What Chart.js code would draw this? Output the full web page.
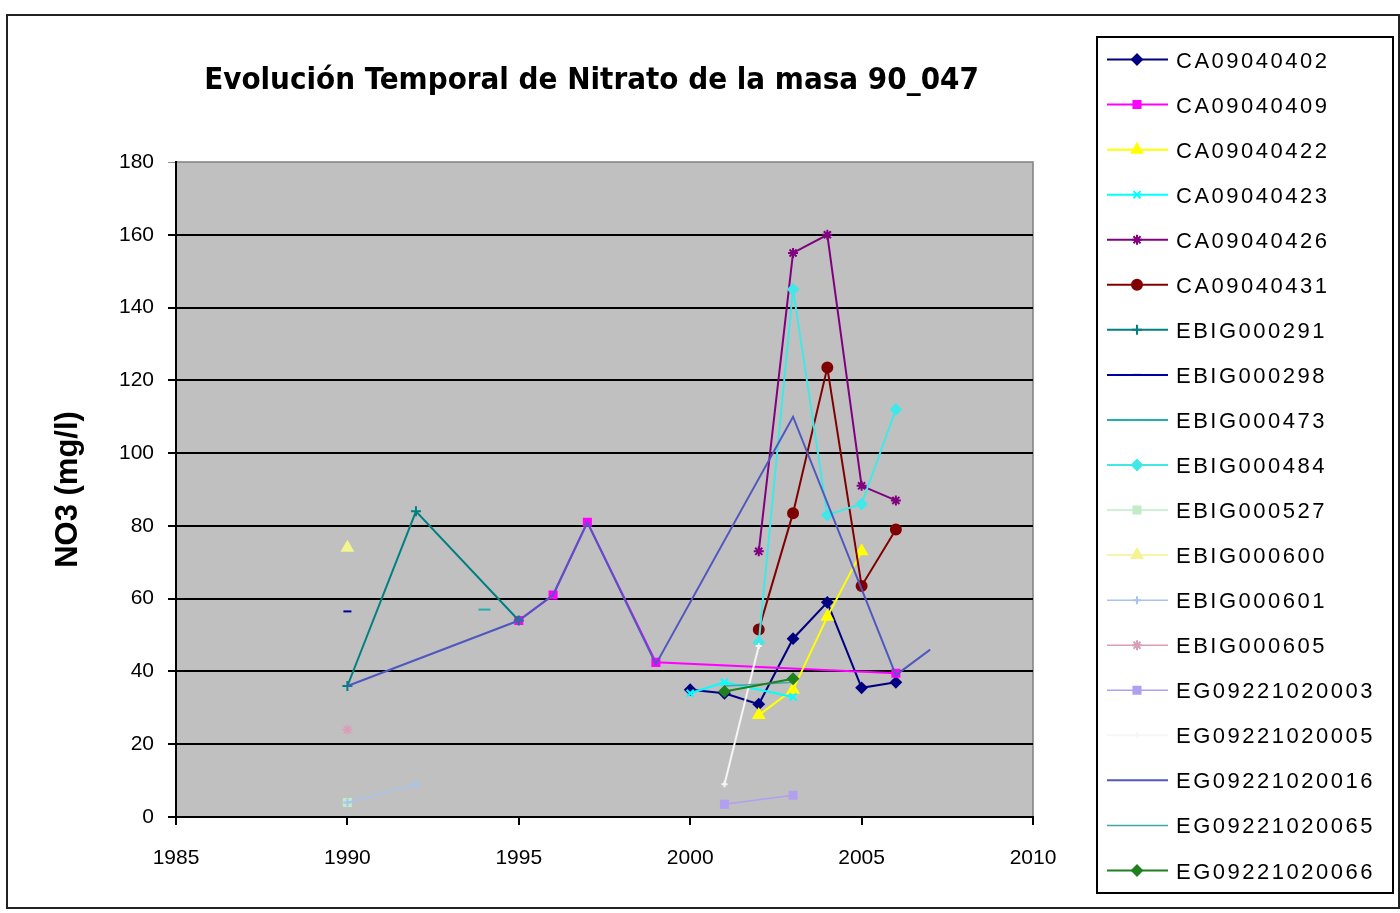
<!DOCTYPE html>
<html>
<head>
<meta charset="utf-8">
<title>Evolución Temporal de Nitrato de la masa 90_047</title>
<script src="https://cdn.jsdelivr.net/npm/chart.js@4.4.1/dist/chart.umd.min.js"></script>
<style>
  html, body { margin: 0; background: #fff; }
  #frame { position: absolute; left: 6px; top: 14px; width: 1390px; height: 891px; border: 2px solid #222; }
  #wrap { position: absolute; left: 0; top: 0; width: 1400px; height: 913px; }
</style>
</head>
<body>
<div id="frame"></div>
<div id="wrap"><canvas id="nitrateChart" width="1400" height="913"></canvas></div>
<script>
const CHART_TITLE = "Evolución Temporal de Nitrato de la masa 90_047";
const Y_TITLE = "NO3 (mg/l)";

const xTicks = [1985, 1990, 1995, 2000, 2005, 2010];
const yTicks = [0, 20, 40, 60, 80, 100, 120, 140, 160, 180];

const stationCodes = [
  "CA09040402", "CA09040409", "CA09040422", "CA09040423", "CA09040426",
  "CA09040431", "EBIG000291", "EBIG000298", "EBIG000473", "EBIG000484",
  "EBIG000527", "EBIG000600", "EBIG000601", "EBIG000605", "EG09221020003",
  "EG09221020005", "EG09221020016", "EG09221020065", "EG09221020066",
];

// years and nitrate values (mg/l) per station
const ca402Years = [2000, 2001, 2002, 2003, 2004, 2005, 2006];
const ca402No3 = [35, 34, 31, 49, 59, 35.5, 37];
const ca409Years = [1995, 1996, 1997, 1999, 2006];
const ca409No3 = [54, 61, 81, 42.5, 39.5];
const ca422Years = [2002, 2003, 2004, 2005];
const ca422No3 = [28, 35, 55, 73];
const ca423Years = [2000, 2001, 2003];
const ca423No3 = [34, 37, 33];
const ca426Years = [2002, 2003, 2004, 2005, 2006];
const ca426No3 = [73, 155, 160, 91, 87];
const ca431Years = [2002, 2003, 2004, 2005, 2006];
const ca431No3 = [51.5, 83.5, 123.5, 63.5, 79];
const eb291Years = [1990, 1992, 1995];
const eb291No3 = [36, 84, 54];
const eb298Years = [1990];
const eb298No3 = [56.5];
const eb473Years = [1994];
const eb473No3 = [57];
const eb484Years = [2002, 2003, 2004, 2005, 2006];
const eb484No3 = [48, 145, 83, 86, 112];
const eb527Years = [1990];
const eb527No3 = [4];
const eb600Years = [1990];
const eb600No3 = [74];
const eb601Years = [1990, 1992];
const eb601No3 = [4, 9];
const eb605Years = [1990];
const eb605No3 = [24];
const eg003Years = [2001, 2003];
const eg003No3 = [3.5, 6];
const eg005Years = [2001, 2002];
const eg005No3 = [9, 47];
const eg016Years = [1990, 1995, 1996, 1997, 1999, 2003, 2006, 2007];
const eg016No3 = [36, 54, 61, 81, 42, 110, 39, 46];
const eg065Years = [2001, 2002, 2003];
const eg065No3 = [36, 36.5, 37];
const eg066Years = [2001, 2003];
const eg066No3 = [34.5, 38];

const stationYears = [
  ca402Years, ca409Years, ca422Years, ca423Years, ca426Years, ca431Years,
  eb291Years, eb298Years, eb473Years, eb484Years, eb527Years, eb600Years,
  eb601Years, eb605Years, eg003Years, eg005Years, eg016Years, eg065Years, eg066Years,
];
const stationNo3 = [
  ca402No3, ca409No3, ca422No3, ca423No3, ca426No3, ca431No3,
  eb291No3, eb298No3, eb473No3, eb484No3, eb527No3, eb600No3,
  eb601No3, eb605No3, eg003No3, eg005No3, eg016No3, eg065No3, eg066No3,
];

// style per station: colour, marker, marker radius, line width
const seriesColors = [
  "#000080", "#ff00ff", "#ffff00", "#00ffff", "#800080", "#800000",
  "#008080", "#0000a0", "#20b0b0", "#40e8e8", "#c0ecc8", "#f4f490",
  "#a8c4ec", "#d8a0b8", "#b0a0f0", "#f6f6f6", "#5058c0", "#40a8a8", "#208020",
];
const seriesMarkers = [
  "rectRot", "rect", "triangle", "crossRot", "star", "circle",
  "cross", "line", "line", "rectRot", "rect", "triangle",
  "cross", "star", "rect", "cross", false, false, "rectRot",
];
const seriesMarkerSize = [5, 5, 6, 5, 5, 5, 5, 4, 6, 5, 5, 6, 4, 5, 5, 3, 0, 0, 5];
const seriesLineWidth = [2, 2, 2, 2, 2, 2, 2, 2, 2, 2, 1.5, 1.5, 1.5, 1.5, 1.5, 2, 2, 1.5, 2];

const datasets = stationCodes.map((code, i) => ({
  label: code,
  data: stationYears[i].map((year, k) => ({ x: year, y: stationNo3[i][k] })),
  borderColor: seriesColors[i],
  backgroundColor: seriesColors[i],
  pointBackgroundColor: seriesColors[i],
  pointBorderColor: seriesColors[i],
  pointStyle: seriesMarkers[i],
  pointRadius: seriesMarkers[i] ? seriesMarkerSize[i] : 0,
  pointBorderWidth: 2,
  borderWidth: seriesLineWidth[i],
  tension: 0,
  fill: false,
  order: -i,
}));

const plotBackground = {
  id: "plotBackground",
  beforeDraw(chart) {
    const { ctx, chartArea: a } = chart;
    ctx.save();
    ctx.fillStyle = "#c0c0c0";
    ctx.fillRect(a.left, a.top, a.right - a.left, a.bottom - a.top);
    ctx.strokeStyle = "#808080";
    ctx.lineWidth = 1.5;
    ctx.beginPath();
    ctx.moveTo(a.left, a.top);
    ctx.lineTo(a.right, a.top);
    ctx.lineTo(a.right, a.bottom);
    ctx.stroke();
    ctx.restore();
  },
  afterLayout(chart) {
    // centre the title over the plot like the original does
    if (chart.titleBlock) {
      chart.titleBlock.left = 150;
      chart.titleBlock.right = chart.chartArea.right;
    }
  },
};

const boxedLegend = {
  id: "boxedLegend",
  afterDraw(chart, args, opts) {
    const { ctx } = chart;
    const { left, top, right, bottom } = opts;
    const items = chart.data.datasets;
    const step = (bottom - top) / items.length;

    ctx.save();
    ctx.strokeStyle = "#000";
    ctx.lineWidth = 2;
    ctx.strokeRect(left, top, right - left, bottom - top);

    items.forEach((ds, i) => {
      const y = top + step * (i + 0.5);
      ctx.strokeStyle = ds.borderColor;
      ctx.fillStyle = ds.borderColor;
      ctx.lineWidth = ds.borderWidth;
      ctx.beginPath();
      ctx.moveTo(left + 10, y);
      ctx.lineTo(left + 71, y);
      ctx.stroke();
      if (ds.pointRadius > 0) {
        ctx.lineWidth = ds.pointBorderWidth;
        Chart.helpers.drawPoint(ctx, {
          pointStyle: ds.pointStyle,
          radius: ds.pointRadius,
          borderWidth: ds.pointBorderWidth,
          rotation: 0,
        }, left + 40, y);
      }
      ctx.fillStyle = "#000";
      ctx.font = '22px "Liberation Sans", Arial, sans-serif';
      ctx.letterSpacing = "2.5px";
      ctx.textBaseline = "middle";
      ctx.textAlign = "left";
      ctx.fillText(ds.label, left + 79, y + 2);
    });
    ctx.restore();
  },
};

const tickFont = { family: '"Liberation Sans", Arial, sans-serif', size: 21 };

new Chart(document.getElementById("nitrateChart"), {
  type: "line",
  data: { datasets },
  options: {
    responsive: false,
    animation: false,
    devicePixelRatio: 1,
    layout: { padding: { left: 46, right: 367, top: 0, bottom: 0 } },
    plugins: {
      legend: { display: false },
      tooltip: { enabled: false },
      title: {
        display: true,
        text: CHART_TITLE,
        color: "#000",
        font: { family: '"Liberation Sans Narrow", "DejaVu Sans Condensed", Arial, sans-serif', size: 31, weight: "bold" },
        padding: { top: 62, bottom: 62.8 },
      },
      boxedLegend: { left: 1097, top: 37, right: 1393, bottom: 893 },
    },
    scales: {
      x: {
        type: "linear",
        min: xTicks[0],
        max: xTicks[xTicks.length - 1],
        afterBuildTicks: scale => { scale.ticks = xTicks.map(value => ({ value })); },
        afterFit: scale => { scale.height = 96; },
        grid: { drawOnChartArea: false, drawTicks: true, tickLength: 8, color: "#000", lineWidth: 2 },
        border: { display: true, color: "#000", width: 2 },
        ticks: { color: "#000", font: tickFont, padding: 21, maxRotation: 0, callback: value => String(value) },
      },
      y: {
        type: "linear",
        min: yTicks[0],
        max: yTicks[yTicks.length - 1],
        afterBuildTicks: scale => { scale.ticks = yTicks.map(value => ({ value })); },
        afterFit: scale => { scale.width = 130; },
        grid: {
          drawTicks: true,
          tickLength: 8,
          color: ctx => (ctx.tick && ctx.tick.value === 180 ? "#909090" : "#000"),
          lineWidth: ctx => (ctx.tick && ctx.tick.value === 180 ? 1 : 2),
        },
        border: { display: true, color: "#000", width: 2 },
        ticks: { color: "#000", font: tickFont, padding: 14 },
        title: {
          display: true,
          text: Y_TITLE,
          color: "#000",
          font: { family: '"Liberation Sans", Arial, sans-serif', size: 31, weight: "bold" },
          padding: { top: 4, bottom: 4 },
        },
      },
    },
  },
  plugins: [plotBackground, boxedLegend],
});
</script>
</body>
</html>
